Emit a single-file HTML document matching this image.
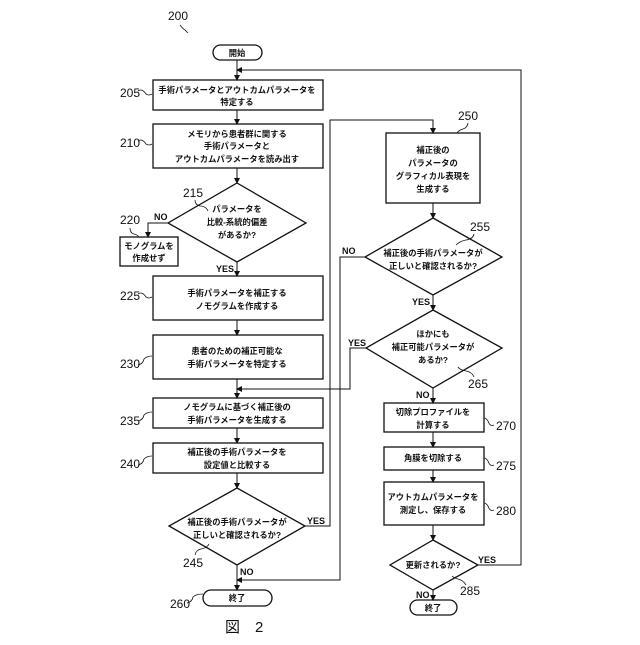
<!DOCTYPE html>
<html><head><meta charset="utf-8"><style>
html,body{margin:0;padding:0;background:#fff}
svg text{font-family:"Liberation Sans","Noto Sans CJK JP",sans-serif;fill:#111}
.j{font-size:8.3px;font-weight:bold;text-anchor:middle}
.n{font-size:12px}
.l{font-size:9px;font-weight:bold}
</style></head><body>
<svg width="640" height="640" viewBox="0 0 640 640" xmlns="http://www.w3.org/2000/svg">
<defs><marker id="a" markerWidth="6" markerHeight="6" refX="5" refY="3" orient="auto" markerUnits="userSpaceOnUse"><path d="M0,0 L6,3 L0,6 z" fill="#111"/></marker></defs>
<g fill="none" stroke="#111" stroke-width="1.3">
<rect x="213" y="45" width="49" height="15" rx="7.5"/>
<rect x="153" y="80" width="170" height="30"/>
<rect x="153" y="124" width="170" height="44"/>
<polygon points="237,183 306,223 237,262 168,223"/>
<rect x="120" y="237" width="58" height="29"/>
<rect x="153" y="276" width="170" height="44"/>
<rect x="153" y="335" width="170" height="44"/>
<rect x="153" y="398" width="170" height="30"/>
<rect x="153" y="443" width="170" height="30"/>
<polygon points="237,488 305,526 237,565 169,526"/>
<rect x="203" y="590" width="69" height="16" rx="8"/>
<rect x="386" y="133" width="94" height="70"/>
<polygon points="433,218 502,257 433,295 365,257"/>
<polygon points="433,310 502,348 433,388 366,348"/>
<rect x="384" y="403" width="100" height="29"/>
<rect x="384" y="447" width="100" height="23"/>
<rect x="384" y="482" width="100" height="43"/>
<polygon points="433,540 478,565 433,590 390,565"/>
<rect x="410" y="600" width="47" height="15" rx="7.5"/>
</g>
<g fill="none" stroke="#111" stroke-width="1">
<line x1="237" y1="60" x2="237" y2="80" marker-end="url(#a)"/>
<polyline points="478,565 521,565 521,70 237,70" marker-end="url(#a)"/>
<line x1="237" y1="110" x2="237" y2="124" marker-end="url(#a)"/>
<line x1="237" y1="168" x2="237" y2="183" marker-end="url(#a)"/>
<polyline points="168,223 148,223 148,237" marker-end="url(#a)"/>
<line x1="237" y1="262" x2="237" y2="276" marker-end="url(#a)"/>
<line x1="237" y1="320" x2="237" y2="335" marker-end="url(#a)"/>
<line x1="237" y1="379" x2="237" y2="398" marker-end="url(#a)"/>
<polyline points="366,348 350,348 350,389 237,389" marker-end="url(#a)"/>
<line x1="237" y1="428" x2="237" y2="443" marker-end="url(#a)"/>
<line x1="237" y1="473" x2="237" y2="488" marker-end="url(#a)"/>
<polyline points="305,526 330,526 330,120 433,120 433,133" marker-end="url(#a)"/>
<line x1="237" y1="565" x2="237" y2="590" marker-end="url(#a)"/>
<polyline points="365,257 340,257 340,580 237,580" marker-end="url(#a)"/>
<line x1="433" y1="203" x2="433" y2="218" marker-end="url(#a)"/>
<line x1="433" y1="295" x2="433" y2="310" marker-end="url(#a)"/>
<line x1="433" y1="388" x2="433" y2="403" marker-end="url(#a)"/>
<line x1="433" y1="432" x2="433" y2="447" marker-end="url(#a)"/>
<line x1="433" y1="470" x2="433" y2="482" marker-end="url(#a)"/>
<line x1="433" y1="525" x2="433" y2="540" marker-end="url(#a)"/>
<line x1="433" y1="590" x2="433" y2="600" marker-end="url(#a)"/>
</g>
<text class="j" x="237" y="56">開始</text>
<text class="j" x="237" y="93">手術パラメータとアウトカムパラメータを</text>
<text class="j" x="237" y="105">特定する</text>
<text class="j" x="237" y="137">メモリから患者群に関する</text>
<text class="j" x="237" y="149">手術パラメータと</text>
<text class="j" x="237" y="162">アウトカムパラメータを読み出す</text>
<text class="j" x="237" y="212">パラメータを</text>
<text class="j" x="237" y="225">比較-系統的偏差</text>
<text class="j" x="237" y="238">があるか?</text>
<text class="j" x="149" y="249">モノグラムを</text>
<text class="j" x="149" y="261">作成せず</text>
<text class="j" x="237" y="296">手術パラメータを補正する</text>
<text class="j" x="237" y="309">ノモグラムを作成する</text>
<text class="j" x="237" y="354">患者のための補正可能な</text>
<text class="j" x="237" y="367">手術パラメータを特定する</text>
<text class="j" x="237" y="410">ノモグラムに基づく補正後の</text>
<text class="j" x="237" y="423">手術パラメータを生成する</text>
<text class="j" x="237" y="455">補正後の手術パラメータを</text>
<text class="j" x="237" y="468">設定値と比較する</text>
<text class="j" x="237" y="525">補正後の手術パラメータが</text>
<text class="j" x="237" y="538">正しいと確認されるか?</text>
<text class="j" x="237" y="601">終了</text>
<text class="j" x="433" y="153">補正後の</text>
<text class="j" x="433" y="166">パラメータの</text>
<text class="j" x="433" y="179">グラフィカル表現を</text>
<text class="j" x="433" y="192">生成する</text>
<text class="j" x="433" y="256">補正後の手術パラメータが</text>
<text class="j" x="433" y="269">正しいと確認されるか?</text>
<text class="j" x="433" y="337">ほかにも</text>
<text class="j" x="433" y="350">補正可能パラメータが</text>
<text class="j" x="433" y="363">あるか?</text>
<text class="j" x="433" y="415">切除プロファイルを</text>
<text class="j" x="433" y="428">計算する</text>
<text class="j" x="433" y="461">角膜を切除する</text>
<text class="j" x="433" y="500">アウトカムパラメータを</text>
<text class="j" x="433" y="513">測定し、保存する</text>
<text class="j" x="433" y="568">更新されるか?</text>
<text class="j" x="433" y="611">終了</text>
<text class="l" x="154" y="220">NO</text>
<text class="l" x="216" y="272">YES</text>
<text class="l" x="307" y="524">YES</text>
<text class="l" x="240" y="575">NO</text>
<text class="l" x="342" y="254">NO</text>
<text class="l" x="412" y="305">YES</text>
<text class="l" x="348" y="346">YES</text>
<text class="l" x="416" y="398">NO</text>
<text class="l" x="478" y="563">YES</text>
<text class="l" x="416" y="598">NO</text>
<text class="n" x="168" y="20">200</text>
<text class="n" x="120" y="97">205</text>
<text class="n" x="120" y="147">210</text>
<text class="n" x="183" y="197">215</text>
<text class="n" x="120" y="224">220</text>
<text class="n" x="120" y="300">225</text>
<text class="n" x="120" y="368">230</text>
<text class="n" x="120" y="425">235</text>
<text class="n" x="120" y="468">240</text>
<text class="n" x="183" y="567">245</text>
<text class="n" x="170" y="608">260</text>
<text class="n" x="458" y="120">250</text>
<text class="n" x="470" y="231">255</text>
<text class="n" x="468" y="388">265</text>
<text class="n" x="496" y="430">270</text>
<text class="n" x="496" y="470">275</text>
<text class="n" x="496" y="515">280</text>
<text class="n" x="460" y="595">285</text>
<text x="225" y="632" style="font-size:15px">図　2</text>
<g fill="none" stroke="#111" stroke-width="0.8">
<path d="M180,25 q3,4 5,5 l3,3"/>
<path d="M138,91 q4,-3 8,3 q3,2 6,0"/>
<path d="M138,141 q4,-3 8,3 q3,2 6,0"/>
<path d="M195,200 q0,5 5,6 q6,0 8,5"/>
<path d="M130,228 q0,5 4,6 q4,1 5,3"/>
<path d="M138,294 q4,-3 8,3 q3,2 6,0"/>
<path d="M138,365 q5,-1 6,-6 q3,-3 8,-3"/>
<path d="M138,421 q5,-1 6,-6 q3,-3 8,-3"/>
<path d="M138,465 q5,-1 6,-6 q3,-3 8,-3"/>
<path d="M195,555 q1,-5 6,-6 q6,-1 8,-5"/>
<path d="M187,603 q5,-1 6,-6 q3,-3 10,-3"/>
<path d="M468,123 q-1,5 -5,6 q-4,1 -6,4"/>
<path d="M474,234 q-1,5 -8,6 q-6,1 -10,5"/>
<path d="M474,377 q-2,-5 -8,-6 q-6,-1 -8,-4"/>
<path d="M494,425 q-4,2 -6,-4 q-2,-3 -4,-3"/>
<path d="M494,465 q-4,2 -6,-4 q-2,-3 -4,-3"/>
<path d="M494,510 q-4,2 -6,-4 q-2,-3 -4,-3"/>
<path d="M466,585 q-3,-5 -8,-6 q-4,-1 -6,-3"/>
</g>
</svg>
</body></html>
